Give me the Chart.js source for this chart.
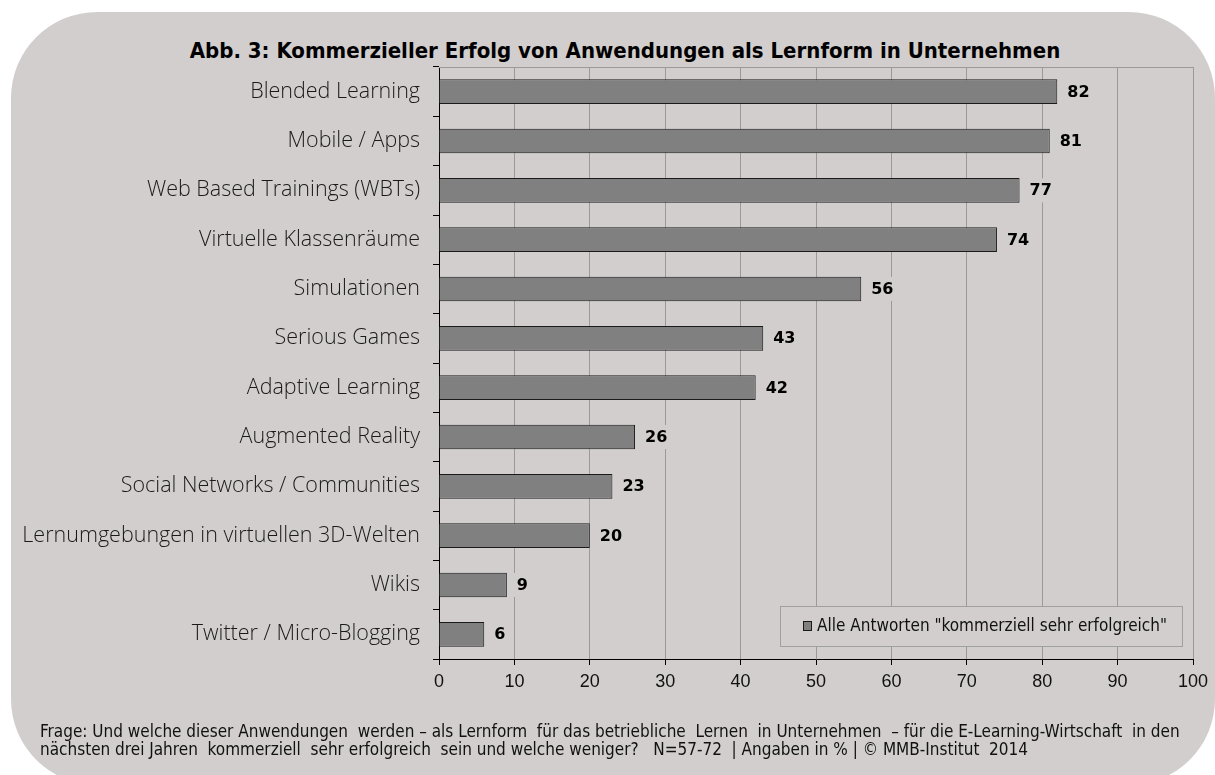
<!DOCTYPE html>
<html>
<head>
<meta charset="utf-8">
<script src="https://cdn.jsdelivr.net/npm/chart.js@4.4.1/dist/chart.umd.min.js"></script>
<style>
  html, body { margin: 0; padding: 0; background: #ffffff; }
  #panel {
    position: absolute; left: 11px; top: 12px; width: 1204px; height: 773px;
    background: #d3cece; border-radius: 86px;
  }
  #wrap { position: absolute; left: 0; top: 0; width: 1215px; height: 775px; }
  #titel {
    position: absolute; left: 0; top: 38px; width: 1250px; text-align: center;
    font-family: 'DejaVu Sans Condensed', 'Liberation Sans Narrow', sans-serif;
    font-size: 22px; font-weight: bold; line-height: 26px; color: #000; white-space: pre;
  }
  #fussnote {
    position: absolute; left: 40px; top: 722px;
    font-family: 'DejaVu Sans Condensed', 'Liberation Sans Narrow', sans-serif;
    font-size: 17px; line-height: 18px; color: #111; white-space: pre;
  }
</style>
</head>
<body>
<div id="panel"></div>
<div id="titel"></div>
<div id="wrap"><canvas id="chartLernformen" width="1215" height="775"></canvas></div>
<div id="fussnote"></div>
<script>
// Daten der Grafik
const kategorien = [
    'Blended Learning',
    'Mobile / Apps',
    'Web Based Trainings (WBTs)',
    'Virtuelle Klassenräume',
    'Simulationen',
    'Serious Games',
    'Adaptive Learning',
    'Augmented Reality',
    'Social Networks / Communities',
    'Lernumgebungen in virtuellen 3D-Welten',
    'Wikis',
    'Twitter / Micro-Blogging'
];
const werte = [82, 81, 77, 74, 56, 43, 42, 26, 23, 20, 9, 6];
const achseMin = 0;
const achseMax = 100;
const achseSchritt = 10;

const titel = 'Abb. 3: Kommerzieller Erfolg von Anwendungen als Lernform in Unternehmen';
const serienName = 'Alle Antworten "kommerziell sehr erfolgreich"';
const fussnote = [
    'Frage: Und welche dieser Anwendungen  werden – als Lernform  für das betriebliche  Lernen  in Unternehmen  – für die E-Learning-Wirtschaft  in den',
    'nächsten drei Jahren  kommerziell  sehr erfolgreich  sein und welche weniger?   N=57-72  | Angaben in % | © MMB-Institut  2014'
];

const FONDO = '#d3cece';
const SCHMAL = "'DejaVu Sans Condensed', 'Liberation Sans Narrow', 'Liberation Sans', sans-serif";

document.getElementById('titel').textContent = titel;
document.getElementById('fussnote').textContent = fussnote.join('\n');

// Werte neben den Balken, mit Hintergrund über den Gitterlinien
const wertePlugin = {
    id: 'werteLabels',
    afterDatasetsDraw(chart) {
        const ctx = chart.ctx;
        const meta = chart.getDatasetMeta(0);
        const daten = chart.data.datasets[0].data;
        ctx.save();
        ctx.font = "bold 16px 'DejaVu Sans', sans-serif";
        ctx.textBaseline = 'middle';
        ctx.textAlign = 'left';
        meta.data.forEach((balken, i) => {
            const txt = String(daten[i]);
            const w = ctx.measureText(txt).width;
            const x = balken.x + 10;
            ctx.fillStyle = FONDO;
            ctx.fillRect(x - 3, balken.y - 12, w + 7, 24);
            ctx.fillStyle = '#000';
            ctx.fillText(txt, x, balken.y + 1);
        });
        ctx.restore();
    }
};

// Rahmen oben und Legende im Diagramm
const rahmenPlugin = {
    id: 'rahmenLegende',
    beforeDatasetsDraw(chart) {
        const ctx = chart.ctx;
        const a = chart.chartArea;
        ctx.save();
        ctx.strokeStyle = '#9a9a9a';
        ctx.lineWidth = 1;
        ctx.beginPath();
        ctx.moveTo(a.left, Math.round(a.top) + 0.5);
        ctx.lineTo(a.right, Math.round(a.top) + 0.5);
        ctx.stroke();
        ctx.restore();
    },
    afterDraw(chart) {
        const ctx = chart.ctx;
        const a = chart.chartArea;
        const ds = chart.data.datasets[0];
        ctx.save();
        ctx.font = '17px ' + SCHMAL;
        const tw = ctx.measureText(ds.label).width;
        const bw = 23 + 9 + 5 + tw + 15;
        const bh = 40;
        const bx = Math.round(a.right - 11 - bw);
        const by = Math.round(a.bottom - 13 - bh);
        ctx.fillStyle = FONDO;
        ctx.fillRect(bx, by, bw, bh);
        ctx.strokeStyle = '#a0a0a0';
        ctx.lineWidth = 1;
        ctx.strokeRect(bx + 0.5, by + 0.5, bw, bh);
        const cy = by + bh / 2;
        ctx.fillStyle = ds.backgroundColor;
        ctx.fillRect(bx + 23, cy - 5, 9, 10);
        ctx.strokeStyle = ds.borderColor;
        ctx.strokeRect(bx + 23.5, cy - 4.5, 8, 9);
        ctx.fillStyle = '#111';
        ctx.textBaseline = 'middle';
        ctx.fillText(ds.label, bx + 37, cy + 1);
        ctx.restore();
    }
};

const ctx = document.getElementById('chartLernformen').getContext('2d');
new Chart(ctx, {
    type: 'bar',
    data: {
        labels: kategorien,
        datasets: [{
            label: serienName,
            data: werte,
            backgroundColor: '#808080',
            borderColor: '#1a1a1a',
            borderWidth: 1,
            barPercentage: 0.5,
            categoryPercentage: 1
        }]
    },
    options: {
        indexAxis: 'y',
        responsive: false,
        animation: false,
        devicePixelRatio: 1,
        layout: { padding: { left: 5, right: 22, top: 67, bottom: 53 } },
        plugins: {
            legend: { display: false },
            tooltip: { enabled: false },
            title: { display: false }
        },
        scales: {
            x: {
                min: achseMin,
                max: achseMax,
                ticks: {
                    stepSize: achseSchritt,
                    color: '#111',
                    padding: 6,
                    font: { family: "'Liberation Sans', sans-serif", size: 18 }
                },
                grid: {
                    color: c => c.index === 0 ? 'rgba(0,0,0,0)' : '#9a9a9a',
                    tickColor: '#000',
                    tickLength: 6,
                    lineWidth: 1
                },
                border: { color: '#000', width: 1 },
                afterFit: s => { s.height = 63; }
            },
            y: {
                ticks: {
                    color: '#1a1a1a',
                    padding: 13,
                    autoSkip: false,
                    font: { family: "'Open Sans', sans-serif", size: 21.5, weight: 300 }
                },
                grid: {
                    drawOnChartArea: false,
                    tickColor: '#000',
                    tickLength: 6,
                    offset: true
                },
                border: { color: '#000', width: 1 },
                afterFit: s => { s.width = 434; }
            }
        }
    },
    plugins: [rahmenPlugin, wertePlugin]
});
</script>
</body>
</html>
